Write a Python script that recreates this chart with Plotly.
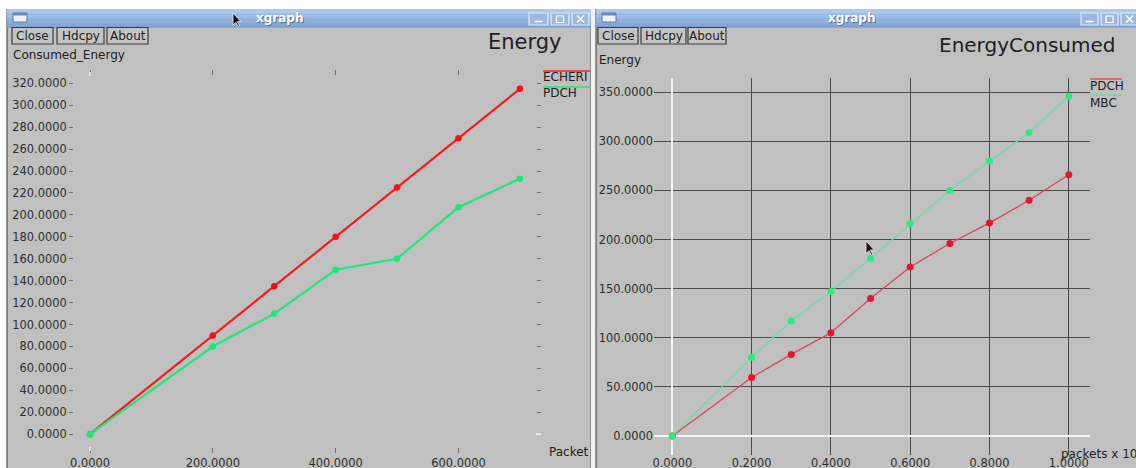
import plotly.graph_objects as go

W, H = 1136, 468

# ---- data: left window (Energy) ----
left_packets = [0, 200, 300, 400, 500, 600, 700]
left_echeri = [0, 90, 135, 180, 225, 270, 315]
left_pdch = [0, 80, 110, 150, 160, 207, 233]
left_xticks = [0, 200, 400, 600]
left_yticks = list(range(0, 321, 20))

# ---- data: right window (EnergyConsumed), packets in thousands ----
right_packets = [0, 0.2, 0.3, 0.4, 0.5, 0.6, 0.7, 0.8, 0.9, 1.0]
right_pdch = [0, 59.5, 83, 105, 140, 172, 196, 217, 240, 266]
right_mbc = [0, 80, 117, 147, 181, 216, 250, 280, 309, 346]
right_xticks = [0, 0.2, 0.4, 0.6, 0.8, 1.0]
right_yticks = list(range(0, 351, 50))

FONT = "DejaVu Sans"
BODY = "#c0c0c0"
TEXT = "#1e1e1e"


def px(x):
    return x / W


def py(y):
    return 1 - y / H


shapes = []
annotations = []


def rect(x0, y0, x1, y1, fill=None, line=None, lw=0, layer="below"):
    shapes.append(dict(
        type="rect", xref="paper", yref="paper",
        x0=px(x0), x1=px(x1), y0=py(y1), y1=py(y0),
        fillcolor=fill if fill else "rgba(0,0,0,0)",
        line=dict(color=line if line else "rgba(0,0,0,0)", width=lw),
        layer=layer,
    ))


def seg(x0, y0, x1, y1, color, lw=1, layer="above"):
    shapes.append(dict(
        type="line", xref="paper", yref="paper",
        x0=px(x0), x1=px(x1), y0=py(y0), y1=py(y1),
        line=dict(color=color, width=lw), layer=layer,
    ))


def text(x, y, s, size=12, color=TEXT, anchor="left", bold=False):
    annotations.append(dict(
        xref="paper", yref="paper", x=px(x), y=py(y),
        text=f"<b>{s}</b>" if bold else s,
        showarrow=False, xanchor=anchor, yanchor="middle",
        font=dict(family=FONT, size=size, color=color),
        borderpad=0,
    ))


def pointer(x, y, s=0.75):
    pts = [(0, 0), (0, 17), (4, 13), (7, 19), (9, 18), (6, 12), (11, 12)]
    path = "M " + " L ".join(f"{px(x + a * s):.5f},{py(y + b * s):.5f}" for a, b in pts) + " Z"
    shapes.append(dict(type="path", xref="paper", yref="paper", path=path,
                       fillcolor="#111111", line=dict(color="#f4f4f4", width=0.8),
                       layer="above"))


def window(x0, x1, title_cx, buttons_x, btn_boxes):
    # frame and body
    rect(x0, 9, x1, H, fill=BODY)
    seg(x0, 9, x0, H, "#505050", 1.2, layer="below")
    # title bar (banded gradient)
    bands = ["#adc7ec", "#9dbce6", "#8fb1df", "#84a7d8"]
    bh = 18 / len(bands)
    for i, c in enumerate(bands):
        rect(x0, 9 + i * bh, x1, 9 + (i + 1) * bh + 0.3, fill=c)
    seg(x0, 27, x1, 27, "#7b97c2", 1, layer="below")
    # window icon
    rect(x0 + 6, 13, x0 + 20, 22, fill="#eef1f6", line="#5b78a8", lw=1)
    rect(x0 + 6, 13, x0 + 20, 15.5, fill="#6d88b5")
    # title text with a soft shadow
    text(title_cx + 1, 19, "xgraph", size=12, color="#5a6f90", anchor="center", bold=True)
    text(title_cx, 18, "xgraph", size=12, color="#ffffff", anchor="center", bold=True)
    # title bar buttons
    for i, (bx0, bx1) in enumerate(buttons_x):
        shapes.append(dict(type="rect", xref="paper", yref="paper",
                           x0=px(bx0), x1=px(bx1), y0=py(25), y1=py(13),
                           fillcolor="#9ab8e2", line=dict(color="#e4edf8", width=1.2),
                           layer="above"))
        cx = (bx0 + bx1) / 2
        if i == 0:
            seg(cx - 4, 21.5, cx + 4, 21.5, "#ffffff", 1.6)
        elif i == 1:
            shapes.append(dict(type="rect", xref="paper", yref="paper",
                               x0=px(cx - 3.5), x1=px(cx + 3.5), y0=py(22.5), y1=py(16),
                               line=dict(color="#ffffff", width=1.2), layer="above"))
        else:
            seg(cx - 3.5, 15.5, cx + 3.5, 22.5, "#ffffff", 1.6)
            seg(cx - 3.5, 22.5, cx + 3.5, 15.5, "#ffffff", 1.6)
    # Close / Hdcpy / About buttons
    for label, (bx0, bx1) in btn_boxes:
        rect(bx0, 27.5, bx1, 44, fill="#c4c4c4", line="#3c3c3c", lw=1.2, layer="above")
        text((bx0 + bx1) / 2, 36, label, size=12, color=TEXT, anchor="center")


# top strip is white (paper background); two windows side by side
window(7, 591, 279, [(529, 548), (551, 569), (572, 589)],
       [("Close", (12, 53)), ("Hdcpy", (57, 104)), ("About", (107, 148))])
rect(591, 9, 595, H, fill="#f2f2f2")
seg(590.5, 27, 590.5, H, "#8c8c8c", 1, layer="below")
window(596, 1140, 851, [(1081, 1098), (1101, 1118), (1121, 1138)],
       [("Close", (598, 638)), ("Hdcpy", (641, 686)), ("About", (688, 726))])

# ---- chart titles, axis captions and legends ----
text(487, 42, "Energy", size=21)
text(12, 55, "Consumed_Energy", size=12)
text(548, 452, "Packet", size=12)
seg(543, 71, 590, 71, "#ff2020", 1.5)
text(542, 77, "ECHERI", size=12)
seg(543, 87, 590, 87, "#20e878", 1.5)
text(542, 93, "PDCH", size=12)

text(938, 45, "EnergyConsumed", size=20)
text(598, 60, "Energy", size=12)
text(1060, 453, "packets x 10<sup>3</sup>", size=12)
seg(1090, 79, 1122, 79, "#d84a58", 1.3)
text(1089, 86, "PDCH", size=12)
seg(1090, 95, 1122, 95, "#6fd9a6", 1.3)
text(1089, 103, "MBC", size=12)

fig = go.Figure()

# left chart series
fig.add_trace(go.Scatter(
    x=left_packets, y=left_echeri, name="ECHERI", mode="lines+markers",
    line=dict(color="#f41a1a", width=2.2), marker=dict(color="#ff0d0d", size=6.5),
    xaxis="x", yaxis="y"))
fig.add_trace(go.Scatter(
    x=left_packets, y=left_pdch, name="PDCH", mode="lines+markers",
    line=dict(color="#1ee87a", width=2.2), marker=dict(color="#12ee70", size=6.5),
    xaxis="x", yaxis="y"))

# right chart series
fig.add_trace(go.Scatter(
    x=right_packets, y=right_pdch, name="PDCH", mode="lines+markers",
    line=dict(color="#d5485a", width=1.3), marker=dict(color="#e8142e", size=7),
    xaxis="x2", yaxis="y2"))
fig.add_trace(go.Scatter(
    x=right_packets, y=right_mbc, name="MBC", mode="lines+markers",
    line=dict(color="#6cdca8", width=1.3), marker=dict(color="#2ee884", size=7),
    xaxis="x2", yaxis="y2"))

tick_font_l = dict(family=FONT, size=11.4, color="#2e2e2e")
tick_font_r = dict(family=FONT, size=11.4, color="#2e2e2e")

# white zero ticks on the left chart (top, bottom, right side)
for y0, y1 in [(72, 76), (447, 451)]:
    shapes.append(dict(type="line", xref="x", yref="paper", x0=0, x1=0,
                       y0=py(y1), y1=py(y0), line=dict(color="#f8f8f8", width=1.5),
                       layer="above"))
shapes.append(dict(type="line", xref="paper", yref="y", x0=px(536), x1=px(541),
                   y0=0, y1=0, line=dict(color="#f8f8f8", width=1.5), layer="above"))

# mouse pointers
pointer(233, 13, 0.72)
pointer(866, 241, 0.75)

fig.update_layout(
    width=W, height=H,
    margin=dict(l=0, r=0, t=0, b=0),
    paper_bgcolor="#ffffff",
    plot_bgcolor="rgba(0,0,0,0)",
    showlegend=False,
    shapes=shapes,
    annotations=annotations,
    xaxis=dict(
        domain=[px(74), px(536)], range=[-26.05, 726.2], anchor="y",
        tickmode="array", tickvals=left_xticks,
        ticktext=[f"{v:.4f}" for v in left_xticks],
        ticks="outside", ticklen=5, tickwidth=1, tickcolor="#6e6e6e",
        mirror="ticks", showline=False, showgrid=False, zeroline=False,
        tickfont=tick_font_l, automargin=False,
    ),
    yaxis=dict(
        domain=[py(447), py(76)], range=[-11.67, 326.7], anchor="x",
        tickmode="array", tickvals=left_yticks,
        ticktext=[f"{v:.4f}" for v in left_yticks],
        ticks="outside", ticklen=4, tickwidth=1, tickcolor="#6e6e6e",
        mirror="ticks", showline=False, showgrid=False, zeroline=False,
        tickfont=tick_font_l, automargin=False,
    ),
    xaxis2=dict(
        domain=[px(654), px(1090)], range=[-0.04615, 1.0535], anchor="y2",
        tickmode="array", tickvals=right_xticks,
        ticktext=[f"{v:.4f}" for v in right_xticks],
        ticks="", showline=False, showgrid=True, gridcolor="#4a4a4a", gridwidth=1,
        zeroline=True, zerolinecolor="#f6f6f6", zerolinewidth=1.5,
        tickfont=tick_font_r, automargin=False,
    ),
    yaxis2=dict(
        domain=[py(455), py(78)], range=[-19.46, 364.6], anchor="x2",
        tickmode="array", tickvals=right_yticks,
        ticktext=[f"{v:.4f}" for v in right_yticks],
        ticks="", showline=False, showgrid=True, gridcolor="#4a4a4a", gridwidth=1,
        zeroline=True, zerolinecolor="#f6f6f6", zerolinewidth=1.5,
        tickfont=tick_font_r, automargin=False,
    ),
)

fig.write_html("out.html")
